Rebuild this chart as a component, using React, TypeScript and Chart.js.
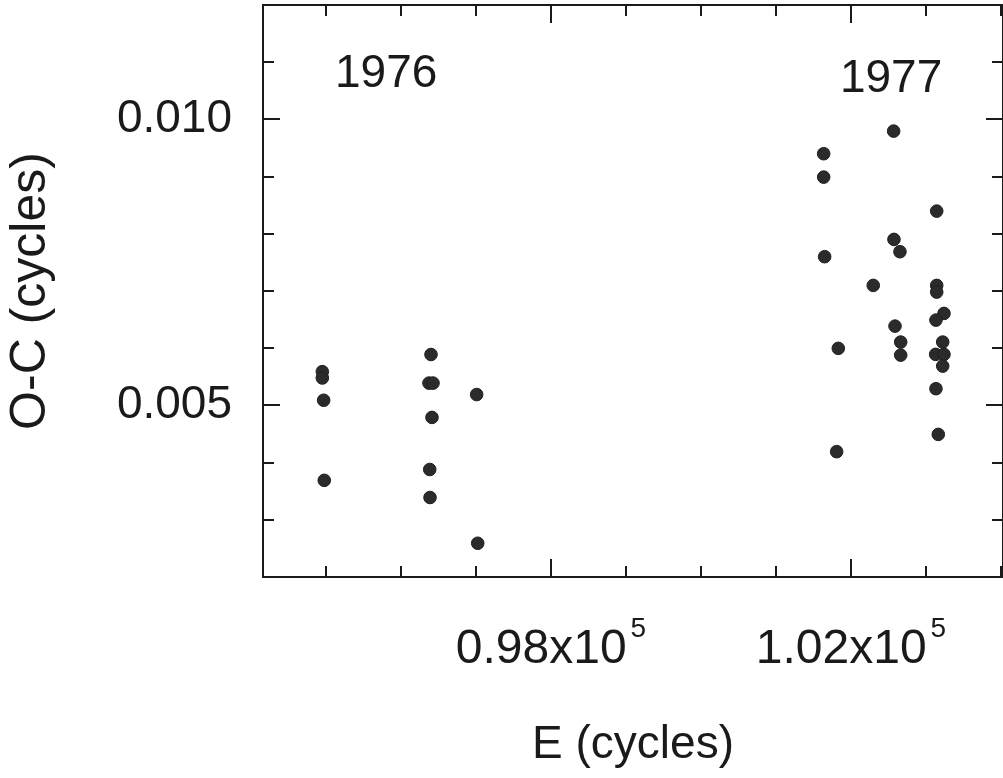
import React, { useEffect, useRef } from 'react';
import { Chart, registerables } from 'chart.js';

Chart.register(...registerables);

const FONT = "'Liberation Sans', Arial, Helvetica, sans-serif";
const INK = '#1a1a1a';

// 1976 season: epoch E (cycles) and O-C (cycles)
const e1976 = [94951, 94951, 94969, 94977, 96400, 96373, 96427, 96413, 96383, 96387, 97009, 97023];
const oc1976 = [0.00559, 0.00548, 0.00509, 0.00369, 0.00589, 0.00539, 0.00539, 0.00479, 0.00388, 0.00339, 0.00519, 0.00259];

// 1977 season
const e1977 = [
  102569, 101636, 101636, 103143, 102573, 102653, 101649, 102297, 103143, 103143, 103240, 103133,
  102587, 102663, 102663, 101831, 103223, 103129, 103240, 103223, 103133, 103164, 101809,
];
const oc1977 = [
  0.009795, 0.0094, 0.008991, 0.008397, 0.007902, 0.007687, 0.0076, 0.007098, 0.007098, 0.006981, 0.006608, 0.006491,
  0.006386, 0.006107, 0.005879, 0.005997, 0.006107, 0.005892, 0.005892, 0.005687, 0.005292, 0.004493, 0.004191,
];

// axis ticks and labels
const xTickValues = [95000, 96000, 97000, 98000, 99000, 100000, 101000, 102000, 103000, 104000];
const xLabelValues = [98000, 102000];
const xLabelMantissa = ['0.98x10', '1.02x10'];
const xLabelExponent = ['5', '5'];
const yTickValues = [0.003, 0.004, 0.005, 0.006, 0.007, 0.008, 0.009, 0.01, 0.011];
const yLabelValues = [0.005, 0.01];
const yLabelText = ['0.005', '0.010'];

// season annotations (anchored in data coordinates)
const seasonNames = ['1976', '1977'];
const seasonE = [95120, 101853];
const seasonOC = [0.01056, 0.010472];

const isIn = (v: number, arr: number[]) =>
  arr.findIndex((a) => Math.abs(a - v) < 1e-9 * Math.max(1, Math.abs(a)));

const framePlugin = {
  id: 'frameTicks',
  beforeDatasetsDraw(chart: any) {
    const { ctx, chartArea } = chart;
    const { left, right, top, bottom } = chartArea;
    const xs = chart.scales.x;
    const ys = chart.scales.y;
    ctx.save();
    ctx.strokeStyle = INK;
    ctx.lineWidth = 2;
    ctx.strokeRect(left, top, right - left, bottom - top);
    ctx.beginPath();
    for (const v of xTickValues) {
      const px = Math.round(xs.getPixelForValue(v));
      const len = isIn(v, xLabelValues) >= 0 ? 18 : 11;
      ctx.moveTo(px, bottom);
      ctx.lineTo(px, bottom - len);
      ctx.moveTo(px, top);
      ctx.lineTo(px, top + len);
    }
    for (const v of yTickValues) {
      const py = Math.round(ys.getPixelForValue(v));
      const len = isIn(v, yLabelValues) >= 0 ? 17 : 11;
      ctx.moveTo(left, py);
      ctx.lineTo(left + len, py);
      ctx.moveTo(right, py);
      ctx.lineTo(right - len, py);
    }
    ctx.stroke();
    ctx.restore();
  },
  afterDraw(chart: any) {
    const { ctx, chartArea } = chart;
    const { bottom } = chartArea;
    const xs = chart.scales.x;
    const ys = chart.scales.y;
    ctx.save();
    ctx.fillStyle = INK;
    ctx.textBaseline = 'alphabetic';
    ctx.textAlign = 'left';
    // x tick labels with superscript exponent
    xLabelValues.forEach((v, i) => {
      const px = xs.getPixelForValue(v);
      ctx.font = `48px ${FONT}`;
      const w1 = ctx.measureText(xLabelMantissa[i]).width;
      ctx.font = `28px ${FONT}`;
      const w2 = ctx.measureText(xLabelExponent[i]).width;
      const gap = 4;
      const start = px - (w1 + gap + w2) / 2;
      ctx.font = `48px ${FONT}`;
      ctx.fillText(xLabelMantissa[i], start, bottom + 86);
      ctx.font = `28px ${FONT}`;
      ctx.fillText(xLabelExponent[i], start + w1 + gap, bottom + 60);
    });
    // season labels
    ctx.font = `46px ${FONT}`;
    seasonNames.forEach((name, i) => {
      ctx.fillText(name, xs.getPixelForValue(seasonE[i]), ys.getPixelForValue(seasonOC[i]));
    });
    ctx.restore();
  },
};

const zeroPad = (scale: any) => {
  scale.paddingTop = 0;
  scale.paddingBottom = 0;
  scale.paddingLeft = 0;
  scale.paddingRight = 0;
};

export default function App() {
  const ref = useRef<HTMLCanvasElement | null>(null);

  useEffect(() => {
    if (!ref.current) return;
    const pointStyle = {
      pointRadius: 6.3,
      pointHoverRadius: 6.3,
      backgroundColor: '#2b2b2b',
      borderColor: '#202020',
      borderWidth: 1,
      showLine: false,
    };
    const chart = new Chart(ref.current, {
      type: 'scatter',
      data: {
        datasets: [
          { label: '1976', data: e1976.map((x, i) => ({ x, y: oc1976[i] })), ...pointStyle },
          { label: '1977', data: e1977.map((x, i) => ({ x, y: oc1977[i] })), ...pointStyle },
        ],
      },
      options: {
        responsive: false,
        animation: false,
        devicePixelRatio: 1,
        layout: { autoPadding: false, padding: { top: 5, left: 0, right: 0, bottom: 0 } },
        plugins: { legend: { display: false }, tooltip: { enabled: false } },
        scales: {
          x: {
            type: 'linear',
            min: 94160,
            max: 104027,
            grid: { display: false, drawTicks: false, tickLength: 0 },
            border: { display: false },
            ticks: { display: false },
            title: {
              display: true,
              text: 'E (cycles)',
              color: INK,
              font: { family: FONT, size: 46 },
              padding: { top: 0, bottom: 5 },
            },
            afterFit: (scale: any) => {
              scale.height = 201;
              zeroPad(scale);
            },
          },
          y: {
            type: 'linear',
            min: 0.002,
            max: 0.012,
            grid: { display: false, drawTicks: false, tickLength: 0 },
            border: { display: false },
            afterBuildTicks: (scale: any) => {
              scale.ticks = yTickValues.map((value) => ({ value }));
            },
            ticks: {
              autoSkip: false,
              padding: 31,
              color: INK,
              font: { family: FONT, size: 46 },
              callback: (value: any) => {
                const idx = isIn(Number(value), yLabelValues);
                return idx >= 0 ? yLabelText[idx] : '';
              },
            },
            title: {
              display: true,
              text: 'O-C (cycles)',
              color: INK,
              font: { family: FONT, size: 50 },
              padding: { top: 1, bottom: 0 },
            },
            afterFit: (scale: any) => {
              scale.width = 263;
              zeroPad(scale);
            },
          },
        },
      },
      plugins: [framePlugin],
    });
    return () => chart.destroy();
  }, []);

  return (
    <div style={{ position: 'fixed', left: 0, top: 0, width: 1003, height: 778, background: '#fff' }}>
      <canvas ref={ref} width={1003} height={778} style={{ display: 'block' }} />
    </div>
  );
}
